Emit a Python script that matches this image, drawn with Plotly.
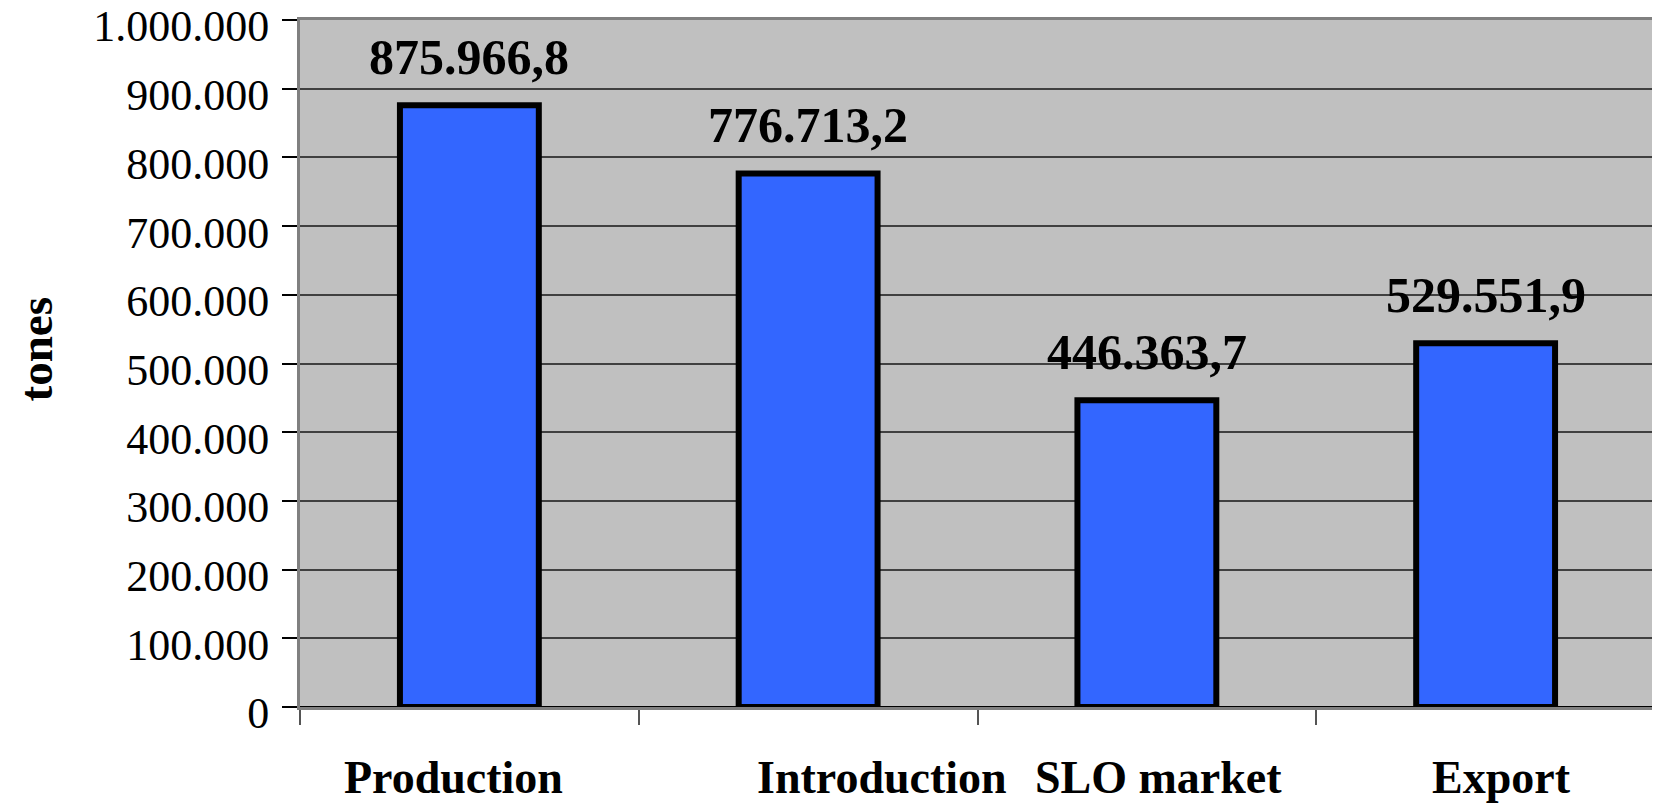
import plotly.graph_objects as go

categories = ["Production", "Introduction", "SLO market", "Export"]
values = [875966.8, 776713.2, 446363.7, 529551.9]
y_tickvals = [0, 100000, 200000, 300000, 400000, 500000, 600000, 700000, 800000, 900000, 1000000]
label_xshift = [-16, 74, 12, 16]

def fmt(v):
    s = f"{v:,.1f}"
    return s.replace(",", "X").replace(".", ",").replace("X", ".")

FONT = "Liberation Serif, Times New Roman, serif"

fig = go.Figure()
fig.add_trace(go.Bar(
    x=categories, y=values, width=0.41,
    marker=dict(color="#3366FF", line=dict(color="black", width=6)),
    hoverinfo="skip",
))

annotations = []
for c, v in zip(categories, values):
    annotations.append(dict(x=c, y=v, xref="x", yref="y", text=f"<b>{fmt(v)}</b>",
                            showarrow=False, yanchor="bottom", yshift=18,
                            font=dict(family=FONT, size=50, color="black")))
for c, s in zip(categories, label_xshift):
    annotations.append(dict(x=c, y=0, xref="x", yref="paper", text=f"<b>{c}</b>",
                            showarrow=False, yanchor="top", yshift=-43, xshift=s,
                            font=dict(family=FONT, size=46, color="black")))
annotations.append(dict(x=0, y=0.5, xref="paper", yref="paper", text="<b>tones</b>",
                        showarrow=False, textangle=-90, xanchor="center", xshift=-265, yshift=14,
                        font=dict(family=FONT, size=47, color="black")))

fig.update_layout(
    width=1660, height=803,
    margin=dict(l=292, r=13, t=12, b=104, autoexpand=False),
    paper_bgcolor="white", plot_bgcolor="#C0C0C0",
    separators=",.",
    showlegend=False,
    annotations=annotations,
    font=dict(family=FONT, color="black"),
)
fig.update_xaxes(
    type="category", showticklabels=False, tickson="boundaries", automargin=False,
    ticks="outside", ticklen=15, tickcolor="#555555", tickwidth=1.5,
    showgrid=False, showline=True, mirror=True, linecolor="#808080", linewidth=3,
)
fig.update_yaxes(
    range=[0, 1000000], tickvals=y_tickvals, tickformat=",d", automargin=False,
    ticks="outside", ticklen=15, tickcolor="black", tickwidth=1.5,
    tickfont=dict(family=FONT, size=44, color="black"),
    ticklabelstandoff=4, ticklabelshift=6, ticklabeloverflow="allow",
    showgrid=True, gridcolor="#404040", gridwidth=1.5,
    zeroline=True, zerolinecolor="black", zerolinewidth=1.5,
    showline=True, mirror=True, linecolor="#808080", linewidth=3,
)

fig.write_html("out.html")
